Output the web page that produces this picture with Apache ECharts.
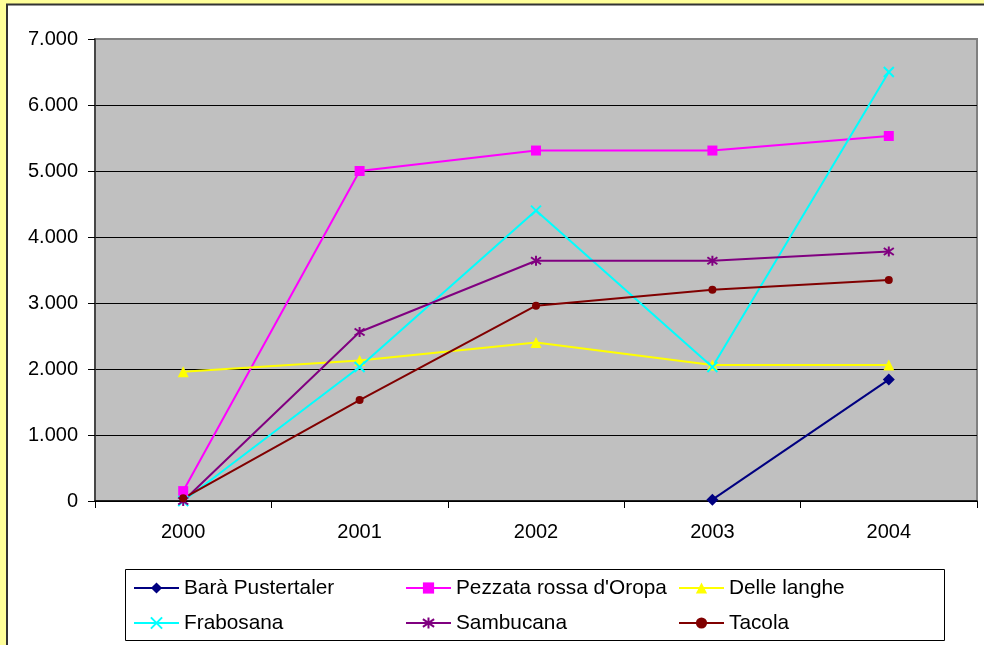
<!DOCTYPE html>
<html>
<head>
<meta charset="utf-8">
<script src="https://cdn.jsdelivr.net/npm/echarts@6/dist/echarts.min.js"></script>
<style>
html,body{margin:0;padding:0;background:#FFFF99;}
#chart{width:984px;height:645px;}
</style>
</head>
<body>
<div id="chart"></div>
<script>
var categories = ['2000', '2001', '2002', '2003', '2004'];
var baraPustertaler = [null, null, null, 20, 1840];
var pezzataRossa = [150, 5000, 5310, 5310, 5530];
var delleLanghe = [1960, 2130, 2400, 2060, 2060];
var frabosana = [0, 2030, 4400, 2030, 6500];
var sambucana = [0, 2560, 3640, 3640, 3780];
var tacola = [40, 1530, 2960, 3200, 3350];
var yTicks = [0, 1000, 2000, 3000, 4000, 5000, 6000, 7000];

var FONT = '"Liberation Sans", Arial, sans-serif';
var xPath = 'path://M0,0L10,10M10,0L0,10';
var starPath = 'path://M5,0L5,10M0.7,1.5L9.3,8.5M9.3,1.5L0.7,8.5';

function mk(name, data, color, symbol, size, stroke) {
  return {
    name: name, type: 'line', data: data,
    symbol: symbol, symbolSize: size,
    lineStyle: { color: color, width: 2 },
    itemStyle: stroke ? { color: 'rgba(0,0,0,0)', borderColor: color, borderWidth: 2 } : { color: color, borderWidth: 0 },
    emphasis: { disabled: true },
    animation: false
  };
}

var chart = echarts.init(document.getElementById('chart'));
var legendText = { fontSize: 20.8, fontFamily: FONT, color: '#000', lineHeight: 22 };
function lg(data, left) {
  return {
    data: data, orient: 'vertical', left: left, top: 577, padding: 0,
    itemWidth: 45, itemHeight: 14, itemGap: 13, textStyle: legendText,
    selectedMode: false
  };
}
chart.setOption({
  backgroundColor: '#FFFF99',
  animation: false,
  graphic: [
    { type: 'rect', z: -100, shape: { x: 7, y: 4.5, width: 1000, height: 700 },
      style: { fill: '#fff', stroke: '#333', lineWidth: 2 } },
    { type: 'rect', z: -50, shape: { x: 125.5, y: 569.5, width: 819, height: 71 },
      style: { fill: '#fff', stroke: '#000', lineWidth: 1 } }
  ],
  grid: { left: 95, top: 39, right: 7, bottom: 144, show: true, backgroundColor: '#C0C0C0', borderColor: '#808080', borderWidth: 2 },
  legend: [
    lg(['Barà Pustertaler', 'Frabosana'], 133),
    lg(["Pezzata rossa d'Oropa", 'Sambucana'], 405),
    lg(['Delle langhe', 'Tacola'], 678)
  ],
  xAxis: {
    type: 'category', data: categories, boundaryGap: true,
    axisLine: { lineStyle: { color: '#000', width: 1.5 } },
    axisTick: { show: true, length: 7, lineStyle: { color: '#000' } },
    axisLabel: { fontSize: 20, fontFamily: FONT, color: '#000', margin: 21 }
  },
  yAxis: {
    type: 'value', min: yTicks[0], max: yTicks[yTicks.length - 1], interval: 1000,
    axisLine: { show: true, lineStyle: { color: '#333', width: 1.5 } },
    axisTick: { show: true, length: 7, lineStyle: { color: '#000' } },
    axisLabel: { fontSize: 20, fontFamily: FONT, color: '#000', margin: 17,
      formatter: function (v) { return v === 0 ? '0' : String(v).replace(/\B(?=(\d{3})+(?!\d))/g, '.'); } },
    splitLine: { show: true, lineStyle: { color: ['#000', '#000', '#000', '#000', '#000', '#000', '#000', '#808080'], width: 1 } }
  },
  series: [
    mk('Barà Pustertaler', baraPustertaler, '#000080', 'diamond', 12, false),
    mk("Pezzata rossa d'Oropa", pezzataRossa, '#FF00FF', 'rect', 10, false),
    mk('Delle langhe', delleLanghe, '#FFFF00', 'triangle', 11, false),
    mk('Frabosana', frabosana, '#00FFFF', xPath, 10, true),
    mk('Sambucana', sambucana, '#800080', starPath, 10, true),
    mk('Tacola', tacola, '#800000', 'circle', 8, false)
  ]
});
</script>
</body>
</html>
